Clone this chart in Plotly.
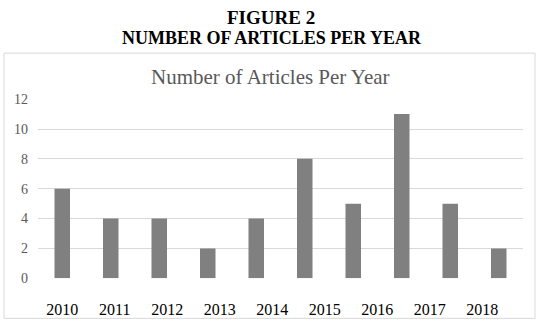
import plotly.graph_objects as go

# Data
bar_values = [6, 4, 4, 2, 4, 8, 5, 11, 5, 2]
year_labels = ["2010", "2011", "2012", "2013", "2014", "2015", "2016", "2017", "2018"]
y_ticks = [0, 2, 4, 6, 8, 10, 12]

W, H = 539, 334
FONT = "Liberation Serif"

bar_index = list(range(len(bar_values)))

px_l, px_r = 38, 523
y0_px, y12_px = 284, 96.5
dom_x = [px_l / W, px_r / W]
dom_y = [(H - y0_px) / H, (H - y12_px) / H]

# year labels sit on their own spacing (first centre 62.3 px, step 52.5 px)
bar_step = (px_r - px_l) / len(bar_values)
lab0, lab_step = 62.3, 52.5
label_pos = [(lab0 + i * lab_step - px_l) / bar_step - 0.5 for i in range(len(year_labels))]

fig = go.Figure()
fig.add_trace(go.Bar(
    x=bar_index, y=bar_values, width=0.32,
    marker=dict(color="#808080", line=dict(width=0)),
    hoverinfo="y", showlegend=False,
))

fig.update_layout(
    width=W, height=H,
    margin=dict(l=0, r=0, t=0, b=0),
    paper_bgcolor="white", plot_bgcolor="white",
    xaxis=dict(domain=dom_x, range=[-0.5, len(bar_values) - 0.5],
               tickmode="array", tickvals=label_pos, ticktext=year_labels,
               showgrid=False, zeroline=False, showline=False, ticks="",
               tickfont=dict(family=FONT, size=16, color="#000000"),
               ticklabelstandoff=20),
    yaxis=dict(domain=dom_y, range=[0, 12], tickvals=y_ticks,
               showgrid=True, gridcolor="#d9d9d9", gridwidth=1, zeroline=False,
               showline=False, ticks="",
               tickfont=dict(family=FONT, size=14, color="#595959"),
               ticklabelstandoff=9),
    shapes=[dict(type="rect", xref="paper", yref="paper",
                 x0=4 / W, x1=535 / W, y0=(H - 326) / H, y1=(H - 48.3) / H,
                 line=dict(color="#d9d9d9", width=1), fillcolor="rgba(0,0,0,0)",
                 layer="below")],
    annotations=[
        dict(text="<b>FIGURE 2</b>", xref="paper", yref="paper",
             x=271 / W, y=1 - 11 / H, showarrow=False, xanchor="center", yanchor="middle",
             font=dict(family=FONT, size=19, color="#000000")),
        dict(text="<b>NUMBER OF ARTICLES PER YEAR</b>", xref="paper", yref="paper",
             x=272 / W, y=1 - 32.5 / H, showarrow=False, xanchor="center", yanchor="middle",
             font=dict(family=FONT, size=18, color="#000000")),
        dict(text="Number of Articles Per Year", xref="paper", yref="paper",
             x=270 / W, y=1 - 72.8 / H, showarrow=False, xanchor="center", yanchor="middle",
             font=dict(family=FONT, size=21, color="#595959")),
    ],
)

fig.write_html("out.html", config={"displayModeBar": False},
               post_script="document.body.style.margin='0';")
